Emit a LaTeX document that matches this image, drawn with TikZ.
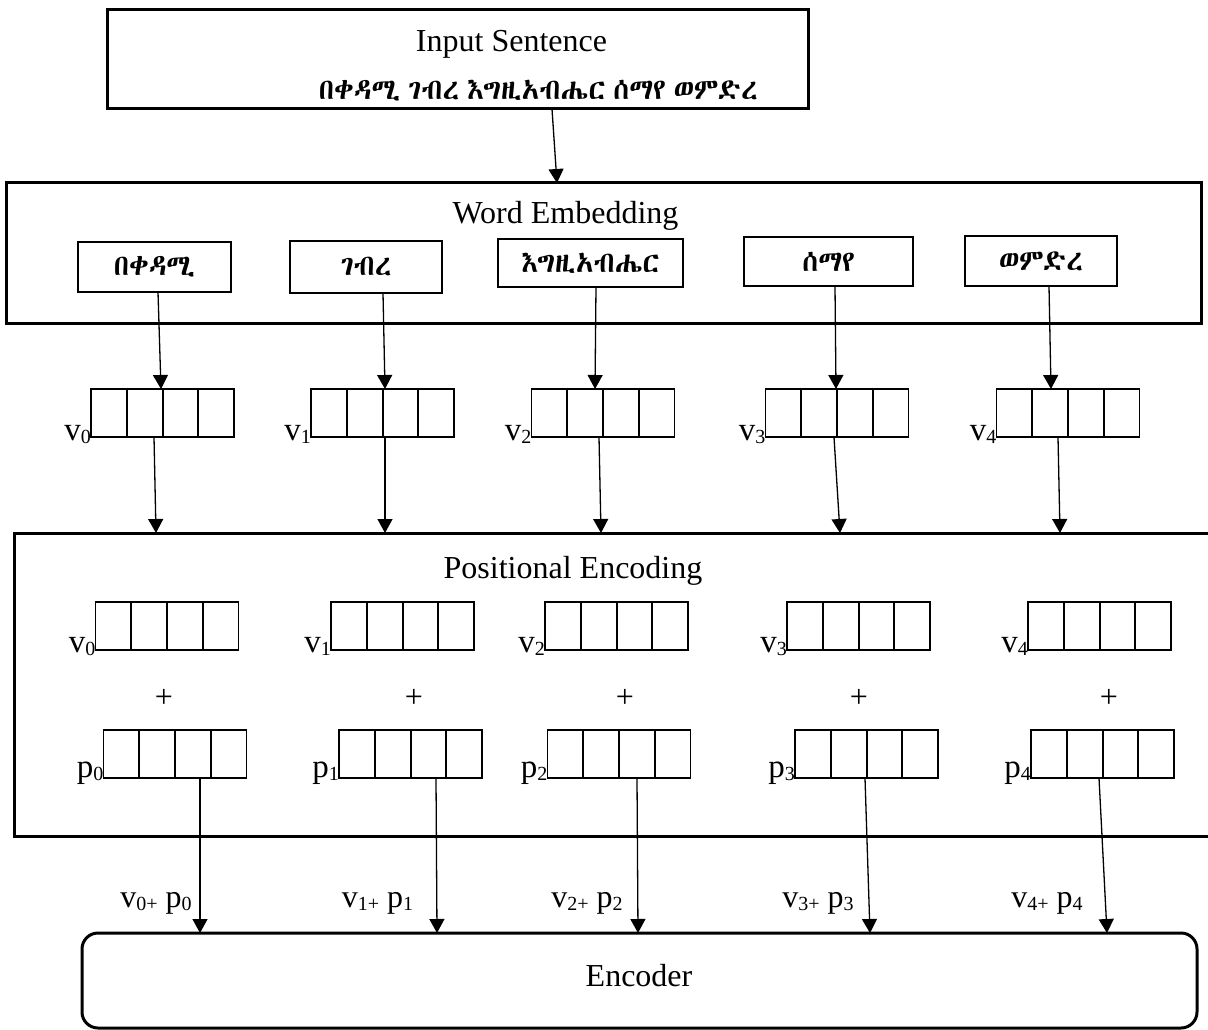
\documentclass[tikz,border=0pt]{standalone}
\usepackage{fontspec}
\setmainfont{Liberation Serif}
\IfFontExistsTF{Abyssinica SIL}{\newfontfamily\ethfont[WordSpace=0.6]{Abyssinica SIL}}{%
  \IfFontExistsTF{Noto Sans Ethiopic}{\newfontfamily\ethfont[WordSpace=0.6]{Noto Sans Ethiopic}}{%
    \IfFontExistsTF{Noto Serif Ethiopic}{\newfontfamily\ethfont[WordSpace=0.6]{Noto Serif Ethiopic}}{%
      \newfontfamily\ethfont{DejaVu Sans}}}}
\usetikzlibrary{arrows.meta,calc}

\newcommand\ethsize{\fontsize{29}{33}\selectfont}
% letter with a small lowered index, as in v0 or p3
\newcommand\sublbl[2]{#1\raisebox{-3pt}{\fontsize{20}{20}\selectfont #2}}
% sum label such as v0+ p0
\newcommand\sumlbl[1]{v\raisebox{-3pt}{\fontsize{20}{20}\selectfont #1+} p\raisebox{-3pt}{\fontsize{20}{20}\selectfont #1}}

\tikzset{
  frame/.style={draw, line width=3pt, inner sep=0pt, outer sep=0pt},
  wordbox/.style={draw, line width=2.6pt, inner sep=0pt, outer sep=0pt, font=\ethfont\ethsize},
  vecbox/.style={draw, line width=1.8pt, minimum width=143pt, minimum height=48pt,
    inner sep=0pt, outer sep=0pt,
    path picture={\foreach \f in {0.25,0.5,0.75}{
      \draw[line width=2pt]
        ($(path picture bounding box.north west)!\f!(path picture bounding box.north east)$) --
        ($(path picture bounding box.south west)!\f!(path picture bounding box.south east)$);}}},
  arr/.style={line width=1.3pt, -{Triangle[width=15pt,length=14pt]}},
  title/.style={anchor=base, inner sep=0pt, font=\fontsize{32}{36}\selectfont},
  lbl/.style={anchor=base east, inner sep=0pt, font=\fontsize{33}{36}\selectfont},
  plus/.style={inner sep=0pt, font=\fontsize{32}{36}\selectfont},
}

\begin{document}
\begin{tikzpicture}[x=1pt, y=-1pt]
\useasboundingbox (0,0) rectangle (1208,1030);

% input sentence
\node[frame, minimum width=701pt, minimum height=99pt] (inbox) at (457.5,59.5) {};
\node[title] (intitle) at (511.5,52) {Input Sentence};
\node[anchor=base, inner sep=0pt, font=\ethfont\ethsize] (insent) at (538.5,100) {በቀዳሚ ገብረ እግዚአብሔር ሰማየ ወምድረ};

% word embedding
\node[frame, minimum width=1195pt, minimum height=140pt] (we) at (603.5,253) {};
\node[title] (wetitle) at (565.5,223) {Word Embedding};
\node[wordbox, minimum width=153pt, minimum height=50pt] (w0) at (154.5,267) {በቀዳሚ};
\node[wordbox, minimum width=152pt, minimum height=52pt] (w1) at (366,267) {ገብረ};
\node[wordbox, minimum width=185pt, minimum height=48pt] (w2) at (590.5,263) {እግዚአብሔር};
\node[wordbox, minimum width=169pt, minimum height=49pt] (w3) at (828.5,261.5) {ሰማየ};
\node[wordbox, minimum width=152pt, minimum height=50pt] (w4) at (1041,261) {ወምድረ};

\draw[arr] ([xshift=94.5pt]inbox.south) -- ([xshift=-46.5pt]we.north);

% embedded vectors
\node[vecbox] (r1v0) at (162.5,413) {};
\node[vecbox] (r1v1) at (382.5,413) {};
\node[vecbox] (r1v2) at (603,413) {};
\node[vecbox] (r1v3) at (837,413) {};
\node[vecbox] (r1v4) at (1068,413) {};
\foreach \i in {0,...,4}{
  \node[lbl, yshift=-3pt] (l1v\i) at (r1v\i.south west) {\sublbl{v}{\i}};
}

\draw[arr] ([xshift=3.5pt]w0.south) -- ([xshift=-1.5pt]r1v0.north);
\draw[arr] ([xshift=17pt]w1.south) -- ([xshift=2.5pt]r1v1.north);
\draw[arr] ([xshift=5.5pt]w2.south) -- ([xshift=-8pt]r1v2.north);
\draw[arr] ([xshift=6.5pt]w3.south) -- ([xshift=-1pt]r1v3.north);
\draw[arr] ([xshift=8pt]w4.south) -- ([xshift=-17pt]r1v4.north);

% positional encoding
\node[frame, minimum width=1196pt, minimum height=303pt] (pe) at (612,684.5) {};
\node[title] (petitle) at (573,578) {Positional Encoding};

\draw[arr] ([xshift=-8.5pt]r1v0.south) -- ([xshift=-456pt]pe.north);
\draw[arr] ([xshift=2.5pt]r1v1.south) -- ([xshift=-227pt]pe.north);
\draw[arr] ([xshift=-4pt]r1v2.south) -- ([xshift=-11pt]pe.north);
\draw[arr] ([xshift=-3pt]r1v3.south) -- ([xshift=228pt]pe.north);
\draw[arr] ([xshift=-10pt]r1v4.south) -- ([xshift=448pt]pe.north);

\node[vecbox] (r2v0) at (167,626) {};
\node[vecbox] (r2v1) at (402.5,626) {};
\node[vecbox] (r2v2) at (616.5,626) {};
\node[vecbox] (r2v3) at (858.5,626) {};
\node[vecbox] (r2v4) at (1099.5,626) {};
\node[plus] (pl0) at (164,698) {+};
\node[plus] (pl1) at (414,698) {+};
\node[plus] (pl2) at (625,698) {+};
\node[plus] (pl3) at (859,698) {+};
\node[plus] (pl4) at (1109,698) {+};
\node[vecbox] (p0) at (175,754) {};
\node[vecbox] (p1) at (410.5,754) {};
\node[vecbox] (p2) at (619,754) {};
\node[vecbox] (p3) at (866.5,754) {};
\node[vecbox] (p4) at (1102.5,754) {};
\foreach \i in {0,...,4}{
  \node[lbl, yshift=-2pt] (l2v\i) at (r2v\i.south west) {\sublbl{v}{\i}};
  \node[lbl, yshift=1pt] (lp\i) at (p\i.south west) {\sublbl{p}{\i}};
}

% encoder
\node[frame, rounded corners=16pt, minimum width=1115pt, minimum height=95pt] (enc) at (639.5,980.5) {};
\node[title] (enctitle) at (639,986) {Encoder};

\draw[arr] ([xshift=25pt]p0.south) -- ([xshift=-439.5pt]enc.north);
\draw[arr] ([xshift=25.5pt]p1.south) -- ([xshift=-202.5pt]enc.north);
\draw[arr] ([xshift=18pt]p2.south) -- ([xshift=-1.5pt]enc.north);
\draw[arr] ([xshift=-1.5pt]p3.south) -- ([xshift=230.5pt]enc.north);
\draw[arr] ([xshift=-3.5pt]p4.south) -- ([xshift=467.5pt]enc.north);

\node[title] (s0) at (156,907) {\sumlbl{0}};
\node[title] (s1) at (377.5,907) {\sumlbl{1}};
\node[title] (s2) at (587,907) {\sumlbl{2}};
\node[title] (s3) at (818,907) {\sumlbl{3}};
\node[title] (s4) at (1047,907) {\sumlbl{4}};
\end{tikzpicture}
\end{document}
